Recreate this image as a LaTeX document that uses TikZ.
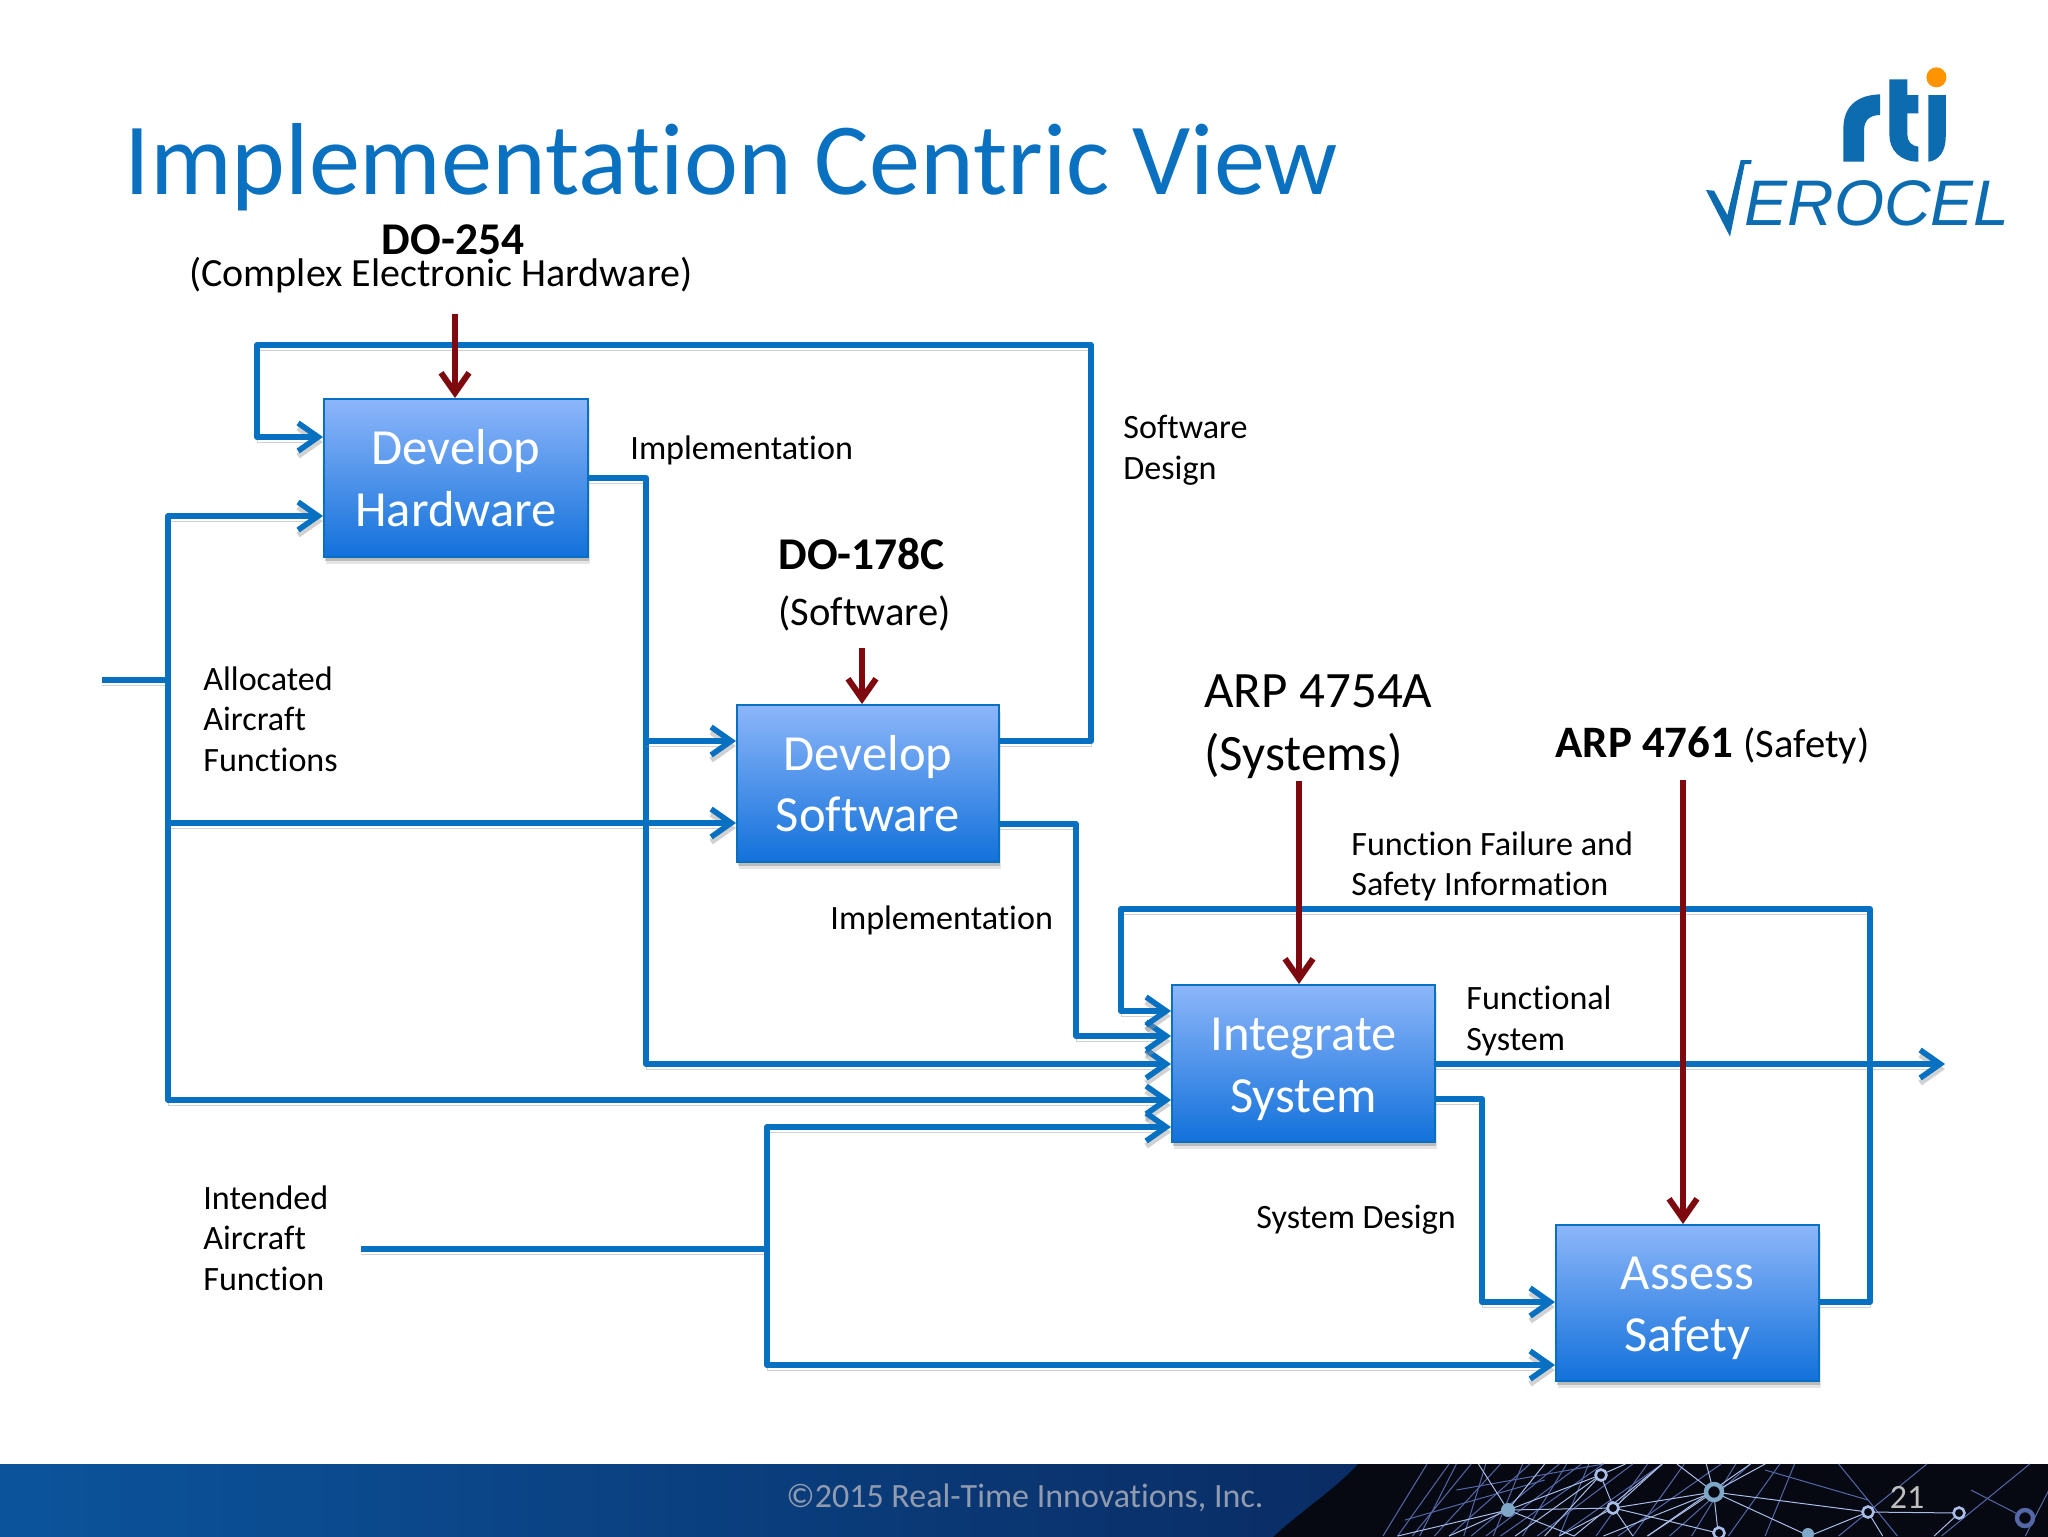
\documentclass[tikz,border=0pt]{standalone}
\usepackage{fontspec}
\setmainfont{Carlito}[Ligatures=NoCommon]
\newfontfamily\logofont{Liberation Sans}
\usetikzlibrary{arrows.meta,shadows,calc}
\definecolor{wire}{HTML}{0870C0}
\definecolor{std}{HTML}{7E0A0F}
\definecolor{titleblue}{HTML}{0A70C0}
\definecolor{logoblue}{HTML}{0D6CB0}
\definecolor{boxtop}{HTML}{8DB6FA}
\definecolor{boxbot}{HTML}{1271DA}
\definecolor{footL}{RGB}{11,84,156}
\definecolor{footR}{RGB}{10,44,100}
\definecolor{footD}{RGB}{6,8,18}
\definecolor{copytext}{RGB}{145,155,175}
\definecolor{netA}{HTML}{A9BDE6}
\definecolor{netB}{HTML}{7FA8C8}
\definecolor{netC}{HTML}{5468A8}
\tikzset{
  x=0.5pt,y=-0.5pt,
  block/.style={rectangle,draw=wire,line width=1pt,top color=boxtop,bottom color=boxbot,
    minimum width=#1,inner sep=0pt,
    general shadow={shadow yshift=-3.5pt,shadow xshift=0.8pt,fill=black,opacity=.10},
    general shadow={shadow yshift=-2pt,shadow xshift=0.4pt,fill=black,opacity=.18}},
  blocktext/.style={align=center,text=white,inner sep=0pt,font=\fontsize{25.3}{30.7}\selectfont},
  shade line/.style={preaction={draw=black!40,opacity=.45,transform canvas={yshift=-2.5pt}}},
  flow/.style={draw=wire,line width=3pt,line join=round,shade line,
    -{Straight Barb[length=10pt,width=14pt,line width=2.8pt]}},
  flowplain/.style={draw=wire,line width=3pt,line join=round,shade line},
  reqs/.style={draw=std,line width=3pt,
    -{Straight Barb[length=10pt,width=14pt,line width=3pt]}},
  lab/.style={anchor=west,align=left,inner sep=0pt,text=black,font=\fontsize{17.05}{20.3}\selectfont},
  biglab/.style={anchor=west,align=left,inner sep=0pt,text=black,font=\fontsize{25.5}{31.3}\selectfont},
  netl/.style={draw=#1,line width=.5pt},
}
\begin{document}
\begin{tikzpicture}
\useasboundingbox (0,0) rectangle (2048,1536);
\fill[white] (0,0) rectangle (2048,1536);
% footer
\shade[left color=footL,right color=footR] (0,1464) rectangle (1360,1542);
\fill[footD] (1358,1464) -- (2048,1464) -- (2048,1542) -- (1268,1542) .. controls (1295,1515) and (1335,1490) .. cycle;
\begin{scope}[shift={(1280,0)},xscale=1.47,shift={(-1280,0)}]
\foreach \a/\b/\c/\d in {
 1380/1464/1350/1536,1400/1464/1375/1536,1420/1464/1405/1536,1445/1464/1425/1536,1475/1464/1445/1536,1490/1464/1470/1536,
 1530/1464/1495/1536,1555/1464/1520/1536,1590/1464/1560/1536,1620/1464/1585/1536,1630/1464/1610/1536,1400/1490/1500/1464,
 1365/1520/1460/1480,1660/1464/1700/1536,1720/1464/1660/1536,1790/1464/1730/1536,1810/1470/1787/1536,1787/1518/1750/1490,
 1610/1470/1680/1500,1370/1536/1410/1464,1385/1536/1430/1464,1410/1536/1470/1464,1430/1536/1500/1464,1455/1536/1520/1464,
 1510/1536/1580/1464,1545/1536/1600/1464,1360/1536/1395/1464,1395/1536/1450/1464,1420/1536/1485/1464,1470/1536/1540/1464}
 {\draw[netl=netC] (\a,\b) -- (\c,\d);}
\foreach \a/\b/\c/\d in {
 1435/1510/1415/1464,1435/1510/1460/1464,1435/1510/1395/1536,1435/1510/1360/1536,1435/1510/1507/1508,1435/1510/1498/1475,
 1435/1510/1480/1536,1498/1475/1507/1508,1498/1475/1440/1536,1498/1475/1460/1536,1498/1475/1515/1464,1507/1508/1575/1492,
 1507/1508/1470/1536,1507/1508/1540/1464,1507/1508/1578/1533,1507/1508/1520/1536,1575/1492/1530/1536,1575/1492/1610/1464,
 1575/1492/1570/1464,1575/1492/1680/1512,1575/1492/1640/1536,1575/1492/1578/1533,1575/1492/1500/1536,1680/1512/1742/1513,
 1680/1512/1640/1536,1680/1512/1690/1536,1742/1513/1725/1536,1575/1492/1550/1464,1540/1464/1480/1536,1600/1464/1530/1536}
 {\draw[netl=netA] (\a,\b) -- (\c,\d);}
\end{scope}
\foreach \a/\b in {1601/1475,1613/1508,1714/1492,1719/1533,1868/1512,1959/1513}
 {\draw[draw=netA,fill=footD,line width=1.3pt] (\a,\b) circle (5.5);}
\draw[netB,line width=2.2pt,fill=footD] (1714,1492) circle (8);
\fill[netB] (1508,1510) circle (7);
\fill[netB] (1808,1534) circle (6);
\draw[netC,line width=2.2pt,fill=footD] (2025,1518) circle (8);
\node[inner sep=0pt,text=copytext,font=\fontsize{17}{20}\selectfont] (copy) at (1025,1498) {©2015 Real-Time Innovations, Inc.};
\node[inner sep=0pt,text=black!25,font=\fontsize{17}{20}\selectfont] (page) at (1907,1497) {21};
% title
\node[anchor=west,inner sep=0pt,text=titleblue,font=\fontsize{51.15}{60}\selectfont] (title) at (124,167) {Implementation Centric View};
% logo
\begin{scope}[shift={(1650,40)},x=0.1667pt,y=-0.1667pt]
\fill[logoblue] (580,365) -- (580,265) .. controls (580,200) and (620,165) .. (690,163) -- (690,225) .. controls (660,225) and (642,240) .. (642,270) -- (642,365) -- cycle;
\fill[logoblue] (718,118) -- (772,118) -- (772,165) -- (805,165) -- (805,220) -- (772,220) -- (772,285) .. controls (772,305) and (785,318) .. (805,320) -- (805,365) .. controls (750,365) and (718,330) .. (718,285) -- cycle;
\fill[logoblue] (835,165) -- (887,165) -- (887,290) .. controls (887,335) and (865,362) .. (835,365) -- cycle;
\fill[orange!85!yellow] (859,112) circle (30);
\fill[logoblue] (168,450) -- (192,452) -- (232,525) -- (272,360) -- (305,360) -- (303,372) -- (284,372) -- (240,590) -- cycle;
\node[anchor=base west,inner sep=0pt,text=logoblue,font={\logofont\itshape\fontsize{32.2}{33}\selectfont}] (logotext) at (283,555) {EROCEL};
\end{scope}
% blocks
\node[block=132pt,minimum height=79pt,label={[blocktext]center:{Develop\\Hardware}}] (hw) at (456,478) {};
\node[block=131pt,minimum height=78.5pt,label={[blocktext]center:{Develop\\Software}}] (sw) at (868,783.5) {};
\node[block=131.5pt,minimum height=78.5pt,label={[blocktext,yshift=-2.9pt]center:{Integrate\\System}}] (is) at (1303.5,1063.5) {};
\node[block=131.5pt,minimum height=78pt,label={[blocktext,yshift=-2.7pt]center:{Assess\\Safety}}] (as) at (1687.5,1303) {};
% labels
\node[lab] (limpl) at (630,450) {Implementation};
\node[lab] (lsd) at (1123,450.5) {Software\\Design};
\node[lab] (laaf) at (203,719) {Allocated\\Aircraft\\Functions};
\node[lab] (limpl2) at (830,920) {Implementation};
\node[lab] (lffs) at (1351,866.5) {Function Failure and\\Safety Information};
\node[lab] (lfs) at (1466,1021) {Functional\\System};
\node[lab] (liaf) at (203,1238) {Intended\\Aircraft\\Function};
\node[lab] (lsysd) at (1256,1220) {System Design};
\node[anchor=center,inner sep=0pt,font=\fontsize{22.7}{25}\selectfont\bfseries] (do254) at (453,240) {DO-254};
\node[anchor=center,inner sep=0pt,font=\fontsize{20}{25}\selectfont] (cplx) at (441,275) {(Complex Electronic Hardware)};
\node[anchor=west,inner sep=0pt,font=\fontsize{22.7}{28}\selectfont\bfseries] (do178) at (778,554) {DO-178C};
\node[anchor=west,inner sep=0pt,font=\fontsize{20.3}{25}\selectfont] (swl) at (778,613) {(Software)};
\node[biglab] (arp54) at (1204,727) {ARP 4754A\\(Systems)};
\node[anchor=west,inner sep=0pt,font=\fontsize{20.3}{25}\selectfont] (arp61) at (1555,745) {\fontsize{22.5}{25}\selectfont\bfseries ARP 4761 \fontsize{20.3}{25}\mdseries\selectfont(Safety)};
% free ends and junctions
\coordinate (inA) at (102,680);
\coordinate (busA) at (168,680);
\coordinate (busAtop) at (168,516);
\coordinate (busAbot) at (168,1100);
\coordinate (busAmid) at (168,823);
\coordinate (hwx) at (646,478);
\coordinate (hwsw) at (646,741);
\coordinate (hwis) at (646,1064);
\coordinate (inB) at (361,1249);
\coordinate (busB) at (767,1249);
\coordinate (busBtop) at (767,1127);
\coordinate (busBbot) at (767,1365);
\coordinate (out) at (1945,1064);
% flows
\draw[flowplain] (inA) -- (busA);
\draw[flow] (busA) -- (busAtop) -- (hw.west |- busAtop);
\draw[flow] (busAmid) -- (sw.west |- busAmid);
\draw[flow] (busA) -- (busAbot) -- (is.west |- busAbot);
\draw[flow] (sw.east |- hwsw) -- (1091,741) -- (1091,345) -- (257,345) -- (257,437) -- (hw.west |- 0,437);
\draw[flow] (hw.east |- hwx) -- (hwx) -- (hwis) -- (is.west |- hwis);
\draw[flow] (hwsw) -- (sw.west |- hwsw);
\draw[flow] (sw.east |- 0,824) -- (1076,824) -- (1076,1036) -- (is.west |- 0,1036);
\draw[flowplain] (inB) -- (busB);
\draw[flow] (busB) -- (busBtop) -- (is.west |- busBtop);
\draw[flow] (busB) -- (busBbot) -- (as.west |- busBbot);
\draw[flow] (is.east |- out) -- (out);
\draw[flow] (is.east |- 0,1099) -- (1482,1099) -- (1482,1302) -- (as.west |- 0,1302);
\draw[flow] (as.east |- 0,1302) -- (1870,1302) -- (1870,909) -- (1121,909) -- (1121,1011) -- (is.west |- 0,1011);
% requirements
\coordinate (r1) at (455,314);
\coordinate (r2) at (862,648);
\coordinate (r3) at (1299,781);
\coordinate (r4) at (1683,780);
\draw[reqs] (r1) -- (hw.north -| r1);
\draw[reqs] (r2) -- (sw.north -| r2);
\draw[reqs] (r3) -- (is.north -| r3);
\draw[reqs] (r4) -- (as.north -| r4);
\end{tikzpicture}
\end{document}
